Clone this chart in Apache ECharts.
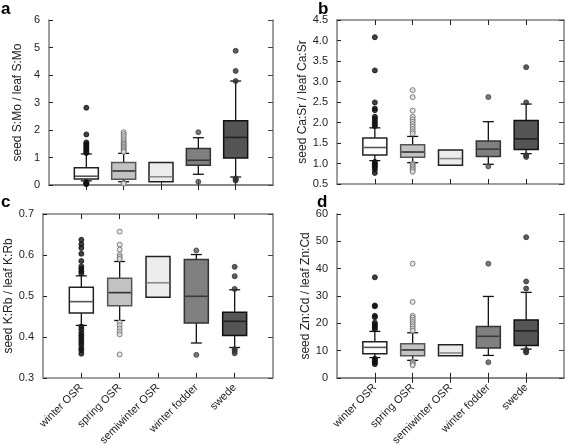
<!DOCTYPE html>
<html><head><meta charset="utf-8">
<script src="https://cdn.jsdelivr.net/npm/echarts@6/dist/echarts.min.js"></script>
<style>html,body{margin:0;padding:0;background:#fff}#c{width:567px;height:448px}</style>
</head><body><div id="c"></div>
<script>
const categories = ['winter OSR','spring OSR','semiwinter OSR','winter fodder','swede'];

// [min, Q1, median, Q3, max] per category
const boxA = [[0.15,0.22,0.32,0.63,1.13],[0.12,0.21,0.51,0.82,1.15],[0.12,0.12,0.30,0.82,0.82],[0.39,0.72,0.90,1.33,1.72],[0.29,0.98,1.73,2.34,3.78]];
const boxB = [[1.07,1.21,1.39,1.62,1.87],[1.02,1.15,1.28,1.46,1.66],[0.96,0.96,1.12,1.33,1.33],[0.98,1.17,1.35,1.55,2.02],[1.24,1.34,1.60,2.05,2.45]];
const boxC = [[0.428,0.458,0.486,0.521,0.549],[0.44,0.476,0.508,0.543,0.584],[0.497,0.497,0.532,0.596,0.596],[0.385,0.434,0.499,0.589,0.601],[0.374,0.403,0.438,0.46,0.515]];
const boxD = [[7.4,8.85,11.15,13.2,17.0],[6.4,8.1,10.2,12.5,16.5],[8.1,8.1,9.1,12.1,12.1],[8.2,10.9,15.2,18.8,29.8],[10.5,11.8,17.2,21.2,31.3]];

// outliers per category
const outA = [[2.81,1.84,1.55,1.5,1.45,1.4,1.35,1.3,1.25,1.2,1.16,0.1,0.07,0.05,0.03],[1.92,1.85,1.78,1.7,1.62,1.55,1.5,1.45,1.4,1.35,1.3,1.25,1.2,0.08,0.05],[],[1.92,0.12],[4.88,4.15,3.78,0.24,0.2,0.16]];
const outB = [[4.08,3.27,2.49,2.34,2.3,2.14,2.1,2.05,2.0,1.95,1.91,1.04,1.0,0.97,0.93,0.9,0.85,0.77],[2.79,2.62,2.29,2.14,2.08,2.02,1.96,1.9,1.84,1.78,1.73,1.0,0.96,0.92,0.88,0.84,0.8],[],[2.62,0.93],[3.35,2.49,1.2,1.16]];
const outC = [[0.637,0.626,0.617,0.603,0.585,0.572,0.566,0.56,0.555,0.425,0.418,0.41,0.404,0.398,0.392,0.386,0.38,0.372,0.367,0.359],[0.657,0.625,0.613,0.6,0.595,0.59,0.435,0.428,0.42,0.413,0.406,0.357],[],[0.611,0.356],[0.571,0.548,0.517,0.37,0.366,0.36]];
const outD = [[36.8,26.5,26.2,22.7,22.2,20.2,19.6,19.0,18.4,17.8,7.0,6.5,6.0,5.5,5.0],[41.8,27.8,22.7,22.0,21.2,20.4,19.6,18.8,18.0,17.2,6.0,5.5,5.0,4.6],[],[41.8,5.7],[51.5,35.3,32.7,10.2,9.6,9.3]];

const yTitles = ['seed S:Mo / leaf S:Mo','seed Ca:Sr / leaf Ca:Sr','seed K:Rb / leaf K:Rb','seed Zn:Cd / leaf Zn:Cd'];
const yMin = [0, 0.5, 0.3, 0];
const yMax = [6, 4.5, 0.7, 60];
const yInterval = [1, 0.5, 0.1, 10];

const boxFill = ['#ffffff','#c2c2c2','#ececec','#808080','#555555'];
const boxBorder = ['#222222','#555555','#222222','#333333','#111111'];
const medianColor = ['#555555','#333333','#8a8a8a','#3a3a3a','#222222'];
const outFill = ['#111111','#dddddd','#999999','#555555','#333333'];
const outBorder = ['#111111','#666666','#999999','#444444','#333333'];

const grids = [
  {left:49, top:20, width:224, height:165},
  {left:337, top:20, width:227, height:164},
  {left:43, top:214, width:230, height:166},
  {left:337, top:214, width:227, height:165}
];
const boxes = [boxA, boxB, boxC, boxD];
const outs = [outA, outB, outC, outD];
const xData = [''].concat(categories).concat(['']);
const frame = '#7f7f7f';
const font = 'Liberation Sans, Arial, sans-serif';

function renderBox(params, api) {
  const i = params.dataIndex;
  const x = api.value(0);
  const lo = api.coord([x, api.value(1)]);
  const q1 = api.coord([x, api.value(2)]);
  const md = api.coord([x, api.value(3)]);
  const q3 = api.coord([x, api.value(4)]);
  const hi = api.coord([x, api.value(5)]);
  const cx = lo[0], bw = 24, cw = 11;
  const ls = {stroke:'#111', lineWidth:1.3};
  const children = [];
  if (hi[1] < q3[1] - 0.5) {
    children.push({type:'line', shape:{x1:cx, y1:hi[1], x2:cx, y2:q3[1]}, style:ls});
    children.push({type:'line', shape:{x1:cx-cw/2, y1:hi[1], x2:cx+cw/2, y2:hi[1]}, style:ls});
  }
  if (lo[1] > q1[1] + 0.5) {
    children.push({type:'line', shape:{x1:cx, y1:q1[1], x2:cx, y2:lo[1]}, style:ls});
    children.push({type:'line', shape:{x1:cx-cw/2, y1:lo[1], x2:cx+cw/2, y2:lo[1]}, style:ls});
  }
  children.push({type:'rect', shape:{x:cx-bw/2, y:q3[1], width:bw, height:q1[1]-q3[1]},
    style:{fill:boxFill[i], stroke:boxBorder[i], lineWidth:1.5}});
  children.push({type:'line', shape:{x1:cx-bw/2+0.75, y1:md[1], x2:cx+bw/2-0.75, y2:md[1]},
    style:{stroke:medianColor[i], lineWidth:1.6}});
  return {type:'group', children};
}

const option = {animation:false, backgroundColor:'#fff', grid:[], xAxis:[], yAxis:[], series:[], graphic:[]};
for (let p = 0; p < 4; p++) {
  option.grid.push(grids[p]);
  const showLabels = p >= 2;
  const fmt = (yInterval[p] < 1) ? (v => v.toFixed(1)) : (v => String(v));
  option.xAxis.push({type:'category', gridIndex:p, data:xData, boundaryGap:false, position:'bottom',
    axisLine:{lineStyle:{color:frame, width:1.5}},
    axisTick:{show:true, inside:true, length:5, interval:(i,v)=>v!=='', lineStyle:{color:'#222'}},
    axisLabel:{show:showLabels, interval:(i,v)=>v!=='', rotate:45, fontSize:11, color:'#222', fontFamily:font, margin:8},
    splitLine:{show:false}});
  option.xAxis.push({type:'category', gridIndex:p, data:xData, boundaryGap:false, position:'top',
    axisLine:{lineStyle:{color:frame, width:1.5}},
    axisTick:{show:true, inside:true, length:5, interval:(i,v)=>v!=='', lineStyle:{color:'#222'}},
    axisLabel:{show:false}, splitLine:{show:false}});
  option.yAxis.push({type:'value', gridIndex:p, min:yMin[p], max:yMax[p], interval:yInterval[p], position:'left',
    name:yTitles[p], nameLocation:'middle', nameGap:25, nameTextStyle:{fontSize:12, color:'#222', fontFamily:font},
    axisLine:{show:true, lineStyle:{color:frame, width:1.5}},
    axisTick:{show:true, inside:true, length:4, lineStyle:{color:'#222'}},
    axisLabel:{fontSize:11, color:'#222', fontFamily:font, formatter:fmt, margin:9},
    splitLine:{show:false}});
  option.yAxis.push({type:'value', gridIndex:p, min:yMin[p], max:yMax[p], interval:yInterval[p], position:'right',
    axisLine:{show:true, lineStyle:{color:frame, width:1.5}},
    axisTick:{show:true, inside:true, length:5, lineStyle:{color:'#444'}},
    axisLabel:{show:false}, splitLine:{show:false}});
  const bdata = boxes[p].map((b,i)=>[i+1].concat(b));
  option.series.push({type:'custom', xAxisIndex:2*p, yAxisIndex:2*p, renderItem:renderBox, data:bdata,
    encode:{x:0, y:[1,2,3,4,5]}, z:2});
  const sdata = [];
  outs[p].forEach((arr,i)=>arr.forEach(v=>sdata.push({value:[i+1, v], itemStyle:{color:outFill[i], borderColor:outBorder[i], borderWidth:1}})));
  option.series.push({type:'scatter', xAxisIndex:2*p, yAxisIndex:2*p, symbolSize:5, data:sdata, z:3});
}
option.graphic = [
  {type:'text', left:1, top:1, style:{text:'a', font:'bold 17px '+font, fill:'#000'}},
  {type:'text', left:318, top:1, style:{text:'b', font:'bold 17px '+font, fill:'#000'}},
  {type:'text', left:1, top:194, style:{text:'c', font:'bold 17px '+font, fill:'#000'}},
  {type:'text', left:317, top:194, style:{text:'d', font:'bold 17px '+font, fill:'#000'}}
];
const chart = echarts.init(document.getElementById('c'), null, {renderer:'canvas'});
chart.setOption(option);
</script></body></html>
